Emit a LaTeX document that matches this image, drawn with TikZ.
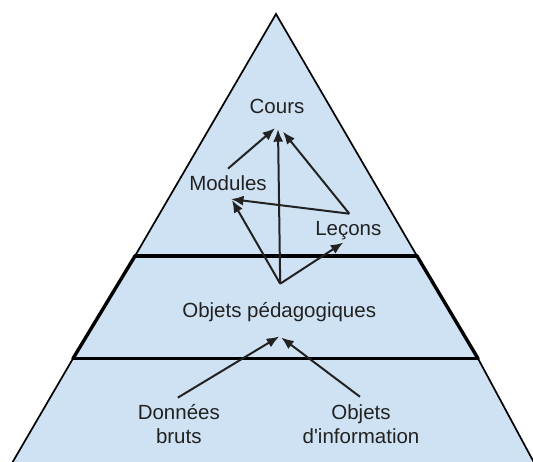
\documentclass[tikz,border=0pt]{standalone}
\usepackage{fontspec}
\setmainfont{Liberation Sans}
\usetikzlibrary{arrows.meta}
\definecolor{pyr}{RGB}{207,226,243}
\definecolor{txt}{RGB}{34,34,34}
\begin{document}
\begin{tikzpicture}[x=1pt,y=-1pt,
  lbl/.style={inner sep=0pt, font=\fontsize{20.5}{24}\selectfont, text=txt},
  arr/.style={line width=2pt, draw=txt, -{Latex[length=12.5pt,width=10pt]}},
  thinedge/.style={line width=1.7pt, line cap=round},
  thickedge/.style={line width=3.4pt, line cap=round}]
\useasboundingbox (0,0) rectangle (533,461);
\clip (0,0) rectangle (533,461);
% pyramid
\fill[pyr] (276,14) -- (135,256) -- (73,358.5) -- (8,470) -- (538,470) -- (478,358.5) -- (417,256) -- cycle;
\draw[thinedge, line join=miter] (8,470) -- (73,358.5);
\draw[thinedge, line join=miter] (135,256) -- (276,14) -- (417,256);
\draw[thinedge] (478,358.5) -- (538,470);
\draw[thickedge] (73,358.5) -- (135,256);
\draw[thickedge] (417,256) -- (478,358.5);
\draw[thickedge] (135,256) -- (417,256);
\draw[thickedge] (73,358.5) -- (478,358.5);
% labels
\node[lbl, anchor=base] (cours) at (277,113.3) {Cours};
\node[lbl, anchor=base] (modules) at (228,190.7) {Modules};
\node[lbl, anchor=base] (lecons) at (348.3,235) {Leçons};
\node[lbl, anchor=base] (op) at (279.2,317) {Objets pédagogiques};
\node[lbl, align=center] (donnees) at (178.8,424.5) {Données\\bruts};
\node[lbl, align=center] (info) at (361,424.5) {Objets\\d\textquotesingle information};
% connectors
\coordinate (opt) at ([shift={(1,-18)}]op.north);
\draw[arr] ([shift={(0,-7)}]modules.north) -- ([shift={(-2,14.5)}]cours.south);
\draw[arr] ([shift={(1,-7)}]lecons.north) -- ([shift={(6,18)}]cours.south);
\draw[arr] ([shift={(1,-7)}]lecons.north) -- ([shift={(3,8)}]modules.south);
\draw[arr] (opt) -- ([shift={(1,15.5)}]cours.south);
\draw[arr] (opt) -- ([shift={(4,9)}]modules.south);
\draw[arr] (opt) -- ([shift={(-5,3)}]lecons.south);
\draw[arr] ([shift={(-1,-7)}]donnees.north) -- ([shift={(0,15)}]op.south);
\draw[arr] ([shift={(-1,-8)}]info.north) -- ([shift={(2,16)}]op.south);
\end{tikzpicture}
\end{document}
